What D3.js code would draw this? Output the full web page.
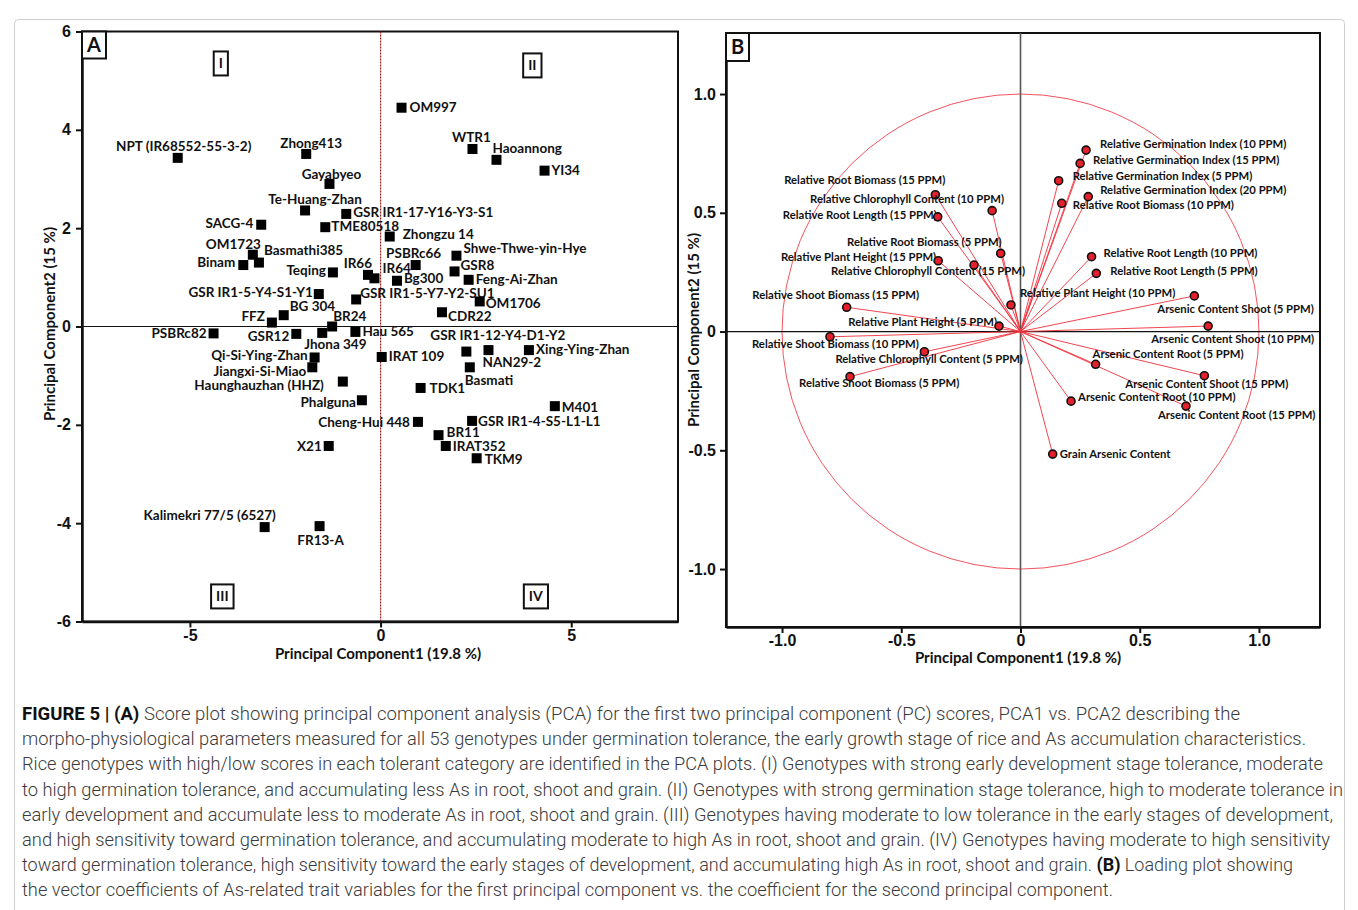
<!DOCTYPE html>
<meta charset="utf-8">
<style>
    body { margin: 0; background: #fff; }
    svg { display: block; font-family: Lato, "Open Sans", sans-serif; }
    .lab { font-weight: 700; fill: #111; }
    .tick text { font-weight: 700; fill: #111; }
    .axis path, .axis line { stroke: #111; }
    .cap { font-family: Roboto, sans-serif; font-weight: 300; fill: #3a3a3a; }
</style>
<svg width="1358" height="910"></svg>
<script src="https://d3js.org/d3.v7.min.js"></script>
<script>

    // ---- panel A: PCA scores of the 53 genotypes
    var genotypes = ["OM997", "WTR1", "Haoannong", "YI34", "NPT (IR68552-55-3-2)", "Zhong413", "Gayabyeo",
        "Te-Huang-Zhan", "GSR IR1-17-Y16-Y3-S1", "SACG-4", "TME80518", "Zhongzu 14", "OM1723", "Basmathi385",
        "Binam", "PSBRc66", "Shwe-Thwe-yin-Hye", "GSR8", "Feng-Ai-Zhan", "Teqing", "IR66", "IR64", "Bg300",
        "GSR IR1-5-Y4-S1-Y1", "GSR IR1-5-Y7-Y2-SU1", "OM1706", "CDR22", "BG 304", "FFZ", "BR24", "PSBRc82",
        "GSR12", "Jhona 349", "Hau 565", "GSR IR1-12-Y4-D1-Y2", "NAN29-2", "Xing-Ying-Zhan", "Basmati",
        "IRAT 109", "Qi-Si-Ying-Zhan", "Jiangxi-Si-Miao", "Haunghauzhan (HHZ)", "TDK1", "Phalguna", "M401",
        "Cheng-Hui 448", "GSR IR1-4-S5-L1-L1", "BR11", "IRAT352", "X21", "TKM9", "Kalimekri 77/5 (6527)", "FR13-A"];
    var pc1Scores = [0.55, 2.41, 3.04, 4.30, -5.32, -1.95, -1.34, -1.98, -0.90, -3.13, -1.45, 0.24, -3.35, -3.19,
        -3.60, 0.92, 1.99, 1.94, 2.31, -1.25, -0.33, -0.16, 0.43, -1.62, -0.64, 2.60, 1.61, -2.54, -2.85, -1.27,
        -4.38, -2.21, -1.53, -0.66, 2.25, 2.83, 3.89, 2.34, 0.03, -1.73, -1.79, -0.99, 1.05, -0.49, 4.57, 0.98,
        2.40, 1.52, 1.71, -1.36, 2.52, -3.04, -1.60];
    var pc2Scores = [4.45, 3.61, 3.39, 3.17, 3.43, 3.51, 2.90, 2.36, 2.29, 2.07, 2.02, 1.83, 1.46, 1.30,
        1.25, 1.25, 1.44, 1.12, 0.95, 1.10, 1.05, 0.98, 0.93, 0.66, 0.55, 0.51, 0.29, 0.23, 0.08, 0.00,
        -0.14, -0.15, -0.13, -0.11, -0.51, -0.48, -0.48, -0.83, -0.62, -0.63, -0.83, -1.12, -1.25, -1.50, -1.62, -1.94,
        -1.92, -2.21, -2.43, -2.43, -2.68, -4.08, -4.06];
    var quadrantNames = ["I", "II", "III", "IV"];
    var quadrantPc1 = [-4.19, 3.98, -4.15, 4.07];
    var quadrantPc2 = [5.35, 5.31, -5.49, -5.49];
    var scoreTicksX = [-5, 0, 5];
    var scoreTicksY = [6, 4, 2, 0, -2, -4, -6];

    // ---- panel B: loadings of the trait variables
    var traits = ["Relative Root Biomass (15 PPM)", "Relative Chlorophyll Content (10 PPM)", "Relative Root Length (15 PPM)",
        "Relative Root Biomass (5 PPM)", "Relative Plant Height (15 PPM)", "Relative Chlorophyll Content (15 PPM)",
        "Relative Shoot Biomass (15 PPM)", "Relative Plant Height (10 PPM)", "Relative Plant Height (5 PPM)",
        "Relative Shoot Biomass (10 PPM)", "Relative Chlorophyll Content (5 PPM)", "Relative Shoot Biomass (5 PPM)",
        "Relative Germination Index (10 PPM)", "Relative Germination Index (15 PPM)", "Relative Germination Index (5 PPM)",
        "Relative Germination Index (20 PPM)", "Relative Root Biomass (10 PPM)", "Relative Root Length (10 PPM)",
        "Relative Root Length (5 PPM)", "Arsenic Content Shoot (5 PPM)", "Arsenic Content Shoot (10 PPM)",
        "Arsenic Content Root (5 PPM)", "Arsenic Content Shoot (15 PPM)", "Arsenic Content Root (10 PPM)",
        "Arsenic Content Root (15 PPM)", "Grain Arsenic Content"];
    var loadPc1 = [-0.357, -0.119, -0.347, -0.083, -0.345, -0.195, -0.729, -0.040, -0.090, -0.799, -0.403, -0.715,
        0.275, 0.250, 0.160, 0.284, 0.173, 0.298, 0.318, 0.729, 0.787, 0.315, 0.771, 0.212, 0.694, 0.135];
    var loadPc2 = [0.576, 0.509, 0.483, 0.329, 0.298, 0.280, 0.102, 0.112, 0.023, -0.022, -0.085, -0.190,
        0.764, 0.708, 0.635, 0.568, 0.540, 0.315, 0.245, 0.150, 0.023, -0.138, -0.186, -0.293, -0.314, -0.516];
    var loadTicks = [-1.0, -0.5, 0, 0.5, 1.0];

    var captionLines = [
        [["FIGURE 5 | (A)", 1], [" Score plot showing principal component analysis (PCA) for the first two principal component (PC) scores, PCA1 vs. PCA2 describing the", 0]],
        [["morpho-physiological parameters measured for all 53 genotypes under germination tolerance, the early growth stage of rice and As accumulation characteristics.", 0]],
        [["Rice genotypes with high/low scores in each tolerant category are identified in the PCA plots. (I) Genotypes with strong early development stage tolerance, moderate", 0]],
        [["to high germination tolerance, and accumulating less As in root, shoot and grain. (II) Genotypes with strong germination stage tolerance, high to moderate tolerance in", 0]],
        [["early development and accumulate less to moderate As in root, shoot and grain. (III) Genotypes having moderate to low tolerance in the early stages of development,", 0]],
        [["and high sensitivity toward germination tolerance, and accumulating moderate to high As in root, shoot and grain. (IV) Genotypes having moderate to high sensitivity", 0]],
        [["toward germination tolerance, high sensitivity toward the early stages of development, and accumulating high As in root, shoot and grain. ", 0], ["(B)", 1], [" Loading plot showing", 0]],
        [["the vector coefficients of As-related trait variables for the first principal component vs. the coefficient for the second principal component.", 0]]
    ];

    // label placement (anchor, dx, dy in px from the marker)
    var scoreLabelSpot = {
        "OM997": ["start", 8, 0], "WTR1": ["middle", -1, -12], "Haoannong": ["start", -4, -12], "YI34": ["start", 7, 0],
        "NPT (IR68552-55-3-2)": ["middle", 6, -12], "Zhong413": ["middle", 5, -11], "Gayabyeo": ["middle", 2, -10],
        "Te-Huang-Zhan": ["middle", 10, -11], "GSR IR1-17-Y16-Y3-S1": ["start", 7, -2], "SACG-4": ["end", -8, -1],
        "TME80518": ["start", 6, -1], "Zhongzu 14": ["start", 13, -2], "OM1723": ["end", 8, -10],
        "Basmathi385": ["start", 5, -12], "Binam": ["end", -8, -3], "PSBRc66": ["middle", -2, -12],
        "Shwe-Thwe-yin-Hye": ["start", 7, -7], "GSR8": ["start", 6, -6], "Feng-Ai-Zhan": ["start", 7, -1],
        "Teqing": ["end", -7, -2], "IR66": ["end", 4, -12], "IR64": ["start", 8, -10], "Bg300": ["start", 7, -3],
        "GSR IR1-5-Y4-S1-Y1": ["end", -6, -2], "GSR IR1-5-Y7-Y2-SU1": ["start", 4, -6], "OM1706": ["start", 6, 2],
        "CDR22": ["start", 6, 4], "BG 304": ["start", 6, -9], "FFZ": ["end", -7, -6], "BR24": ["start", 1, -10],
        "PSBRc82": ["end", -7, 0], "GSR12": ["end", -7, 2], "Jhona 349": ["start", -18, 11], "Hau 565": ["start", 7, -1],
        "GSR IR1-12-Y4-D1-Y2": ["start", -36, -16], "NAN29-2": ["start", -6, 12], "Xing-Ying-Zhan": ["start", 7, -1],
        "Basmati": ["start", -5, 13], "IRAT 109": ["start", 7, -1], "Qi-Si-Ying-Zhan": ["end", -7, -2],
        "Jiangxi-Si-Miao": ["end", -6, 4], "Haunghauzhan (HHZ)": ["end", -19, 4], "TDK1": ["start", 9, 0],
        "Phalguna": ["end", -6, 2], "M401": ["start", 7, 1], "Cheng-Hui 448": ["end", -8, 0],
        "GSR IR1-4-S5-L1-L1": ["start", 6, 0], "BR11": ["start", 8, -3], "IRAT352": ["start", 7, 0],
        "X21": ["end", -7, 0], "TKM9": ["start", 8, 1], "Kalimekri 77/5 (6527)": ["middle", -55, -12],
        "FR13-A": ["middle", 1, 14]
    };
    var traitLabelSpot = [["end", 10, -15], ["end", 12, -12], ["end", -1, -2], ["end", 1, -11], ["end", -2, -4],
        ["start", -143, 6], ["middle", -11, -12], ["start", 9, -12], ["end", -2, -4], ["start", -78, 7],
        ["start", -89, 7], ["start", -51, 6], ["start", 14, -6], ["start", 13, -3], ["start", 14, -5],
        ["start", 12, -7], ["start", 11, 2], ["start", 12, -4], ["start", 14, -2], ["start", -37, 13],
        ["start", -57, 13], ["start", -3, -10], ["start", -79, 8], ["start", 7, -4], ["start", -28, 9], ["start", 7, 0]];
    var captionWidths = [1218, 1284, 1301, 1321, 1311, 1308, 1271, 1091];

    var svg = d3.select("svg");
    var plainNum = function(d) { return d === 0 ? "0" : String(d); };
    var oneDec = function(d) { return d === 0 ? "0" : d.toFixed(1); };

    // light figure frame
    svg.append("rect")
        .attr("x", 14.5).attr("y", 19.5).attr("width", 1330).attr("height", 905)
        .attr("rx", 4)
        .attr("fill", "none").attr("stroke", "#cfcfcf");

    function boxedLetter(parent, cx, cy, txt, size, padX, padY) {
        var g = parent.append("g");
        var box = g.append("rect");
        var t = g.append("text")
            .attr("x", cx).attr("y", cy).attr("dy", "0.35em")
            .attr("text-anchor", "middle")
            .attr("class", "lab")
            .style("font-size", size + "px")
            .text(txt);
        var bb = t.node().getBBox();
        box.attr("x", bb.x - padX).attr("y", cy - size * 0.5 - padY)
            .attr("width", bb.width + 2 * padX).attr("height", size + 2 * padY)
            .attr("fill", "#fff").attr("stroke", "#111").attr("stroke-width", 2);
    }

    // ================= panel A =================
    var ax = d3.scaleLinear().domain([-7.83, 7.8]).range([82, 678]),
        ay = d3.scaleLinear().domain([-6, 6]).range([621.5, 31.5]);

    var gA = svg.append("g");

    gA.append("rect")
        .attr("x", ax.range()[0]).attr("y", ay.range()[1])
        .attr("width", ax.range()[1] - ax.range()[0]).attr("height", ay.range()[0] - ay.range()[1])
        .attr("fill", "none").attr("stroke", "#111").attr("stroke-width", 2);

    gA.append("line")
        .attr("x1", ax.range()[0]).attr("x2", ax.range()[1])
        .attr("y1", ay(0)).attr("y2", ay(0))
        .attr("stroke", "#111").attr("stroke-width", 1.2);
    gA.append("line")
        .attr("x1", ax(0)).attr("x2", ax(0))
        .attr("y1", ay.range()[1]).attr("y2", ay.range()[0])
        .attr("stroke", "#9b1b1b").attr("stroke-width", 1.2).attr("stroke-dasharray", "2,1");

    gA.append("g")
        .attr("class", "axis")
        .attr("transform", "translate(" + ax.range()[0] + ",0)")
        .call(d3.axisLeft(ay).tickValues(scoreTicksY).tickSize(6).tickSizeOuter(0).tickPadding(5).tickFormat(plainNum))
        .call(function(g) {
            g.select(".domain").attr("stroke-width", 2.5);
            g.selectAll(".tick line").attr("stroke-width", 2);
            g.selectAll(".tick text").style("font-size", "16px");
        });
    gA.append("g")
        .attr("class", "axis")
        .attr("transform", "translate(0," + ay.range()[0] + ")")
        .call(d3.axisBottom(ax).tickValues(scoreTicksX).tickSize(6).tickSizeOuter(0).tickPadding(2).tickFormat(plainNum))
        .call(function(g) {
            g.select(".domain").attr("stroke-width", 2.5);
            g.selectAll(".tick line").attr("stroke-width", 2);
            g.selectAll(".tick text").style("font-size", "16px");
        });

    gA.append("text")
        .attr("class", "lab")
        .attr("x", 378).attr("y", 654).attr("dy", "0.35em")
        .attr("text-anchor", "middle")
        .style("font-size", "15px")
        .text("Principal Component1 (19.8 %)");
    gA.append("text")
        .attr("class", "lab")
        .attr("transform", "translate(50,324) rotate(-90)")
        .attr("dy", "0.35em")
        .attr("text-anchor", "middle")
        .style("font-size", "15px")
        .text("Principal Component2 (15 %)");

    var pts = gA.append("g").selectAll("g")
        .data(genotypes)
        .join("g")
        .attr("transform", function(d, i) { return "translate(" + ax(pc1Scores[i]) + "," + ay(pc2Scores[i]) + ")"; });
    pts.append("rect")
        .attr("x", -5).attr("y", -5).attr("width", 10).attr("height", 10)
        .attr("fill", "#000");
    pts.append("text")
        .attr("class", "lab")
        .style("font-size", "13.5px")
        .attr("text-anchor", function(d) { return scoreLabelSpot[d][0]; })
        .attr("x", function(d) { return scoreLabelSpot[d][1]; })
        .attr("y", function(d) { return scoreLabelSpot[d][2]; })
        .attr("dy", "0.35em")
        .text(function(d) { return d; });

    quadrantNames.forEach(function(q, i) {
        boxedLetter(gA, ax(quadrantPc1[i]), ay(quadrantPc2[i]), q, 14, 5, 5);
    });

    gA.append("rect")
        .attr("x", 82).attr("y", 31.5).attr("width", 24).attr("height", 27)
        .attr("fill", "#fff").attr("stroke", "#111").attr("stroke-width", 2);
    gA.append("text")
        .attr("class", "lab")
        .attr("x", 94).attr("y", 45).attr("dy", "0.36em")
        .attr("text-anchor", "middle")
        .style("font-size", "20px")
        .text("A");

    // ================= panel B =================
    var bx = d3.scaleLinear().domain([-1.235, 1.256]).range([726, 1320]),
        by = d3.scaleLinear().domain([-1.244, 1.257]).range([627, 33]);

    var gB = svg.append("g");

    gB.append("rect")
        .attr("x", bx.range()[0]).attr("y", by.range()[1])
        .attr("width", bx.range()[1] - bx.range()[0]).attr("height", by.range()[0] - by.range()[1])
        .attr("fill", "none").attr("stroke", "#111").attr("stroke-width", 2);

    gB.append("ellipse")
        .attr("cx", bx(0)).attr("cy", by(0))
        .attr("rx", bx(1) - bx(0)).attr("ry", by(0) - by(1))
        .attr("fill", "none").attr("stroke", "#f0404c").attr("stroke-width", 0.9);

    gB.append("line")
        .attr("x1", bx.range()[0]).attr("x2", bx.range()[1])
        .attr("y1", by(0)).attr("y2", by(0))
        .attr("stroke", "#111").attr("stroke-width", 1.2);
    gB.append("line")
        .attr("x1", bx(0)).attr("x2", bx(0))
        .attr("y1", by.range()[1]).attr("y2", by.range()[0])
        .attr("stroke", "#555").attr("stroke-width", 1.6);

    gB.append("g")
        .attr("class", "axis")
        .attr("transform", "translate(" + bx.range()[0] + ",0)")
        .call(d3.axisLeft(by).tickValues(loadTicks).tickSize(6).tickSizeOuter(0).tickPadding(4).tickFormat(oneDec))
        .call(function(g) {
            g.select(".domain").attr("stroke-width", 2.5);
            g.selectAll(".tick line").attr("stroke-width", 2);
            g.selectAll(".tick text").style("font-size", "16px").style("font-weight", 600);
        });
    gB.append("g")
        .attr("class", "axis")
        .attr("transform", "translate(0," + by.range()[0] + ")")
        .call(d3.axisBottom(bx).tickValues(loadTicks).tickSize(6).tickSizeOuter(0).tickPadding(2).tickFormat(oneDec))
        .call(function(g) {
            g.select(".domain").attr("stroke-width", 2.5);
            g.selectAll(".tick line").attr("stroke-width", 2);
            g.selectAll(".tick text").style("font-size", "16px").style("font-weight", 600);
        });

    gB.append("text")
        .attr("class", "lab")
        .attr("x", 1018).attr("y", 658).attr("dy", "0.35em")
        .attr("text-anchor", "middle")
        .style("font-size", "15px")
        .text("Principal Component1 (19.8 %)");
    gB.append("text")
        .attr("class", "lab")
        .attr("transform", "translate(694,330) rotate(-90)")
        .attr("dy", "0.35em")
        .attr("text-anchor", "middle")
        .style("font-size", "15px")
        .text("Principal Component2 (15 %)");

    gB.append("g").selectAll("line")
        .data(traits)
        .join("line")
        .attr("x1", bx(0)).attr("y1", by(0))
        .attr("x2", function(d, i) { return bx(loadPc1[i]); })
        .attr("y2", function(d, i) { return by(loadPc2[i]); })
        .attr("stroke", "#f0303c").attr("stroke-width", 0.9);

    var tp = gB.append("g").selectAll("g")
        .data(traits)
        .join("g")
        .attr("transform", function(d, i) { return "translate(" + bx(loadPc1[i]) + "," + by(loadPc2[i]) + ")"; });
    tp.append("text")
        .attr("class", "lab")
        .style("font-size", "11.3px")
        .attr("text-anchor", function(d, i) { return traitLabelSpot[i][0]; })
        .attr("x", function(d, i) { return traitLabelSpot[i][1]; })
        .attr("y", function(d, i) { return traitLabelSpot[i][2]; })
        .attr("dy", "0.35em")
        .text(function(d) { return d; });
    tp.append("circle")
        .attr("r", 4)
        .attr("fill", "#e3202c").attr("stroke", "#111").attr("stroke-width", 1.6);

    gB.append("rect")
        .attr("x", 726).attr("y", 33).attr("width", 23).attr("height", 28)
        .attr("fill", "#fff").attr("stroke", "#111").attr("stroke-width", 2);
    gB.append("text")
        .attr("class", "lab")
        .attr("x", 737.5).attr("y", 47).attr("dy", "0.36em")
        .attr("text-anchor", "middle")
        .style("font-size", "20px")
        .text("B");

    // ================= caption =================
    var cap = svg.append("g").selectAll("text")
        .data(captionLines)
        .join("text")
        .attr("class", "cap")
        .attr("x", 22)
        .attr("y", function(d, i) { return 720 + i * 25.2; })
        .attr("textLength", function(d, i) { return captionWidths[i]; })
        .attr("lengthAdjust", "spacingAndGlyphs")
        .style("font-size", "17.5px");
    cap.selectAll("tspan")
        .data(function(d) { return d; })
        .join("tspan")
        .style("font-weight", function(d) { return d[1] ? 700 : null; })
        .style("fill", function(d) { return d[1] ? "#111" : null; })
        .text(function(d) { return d[0]; });

</script>
